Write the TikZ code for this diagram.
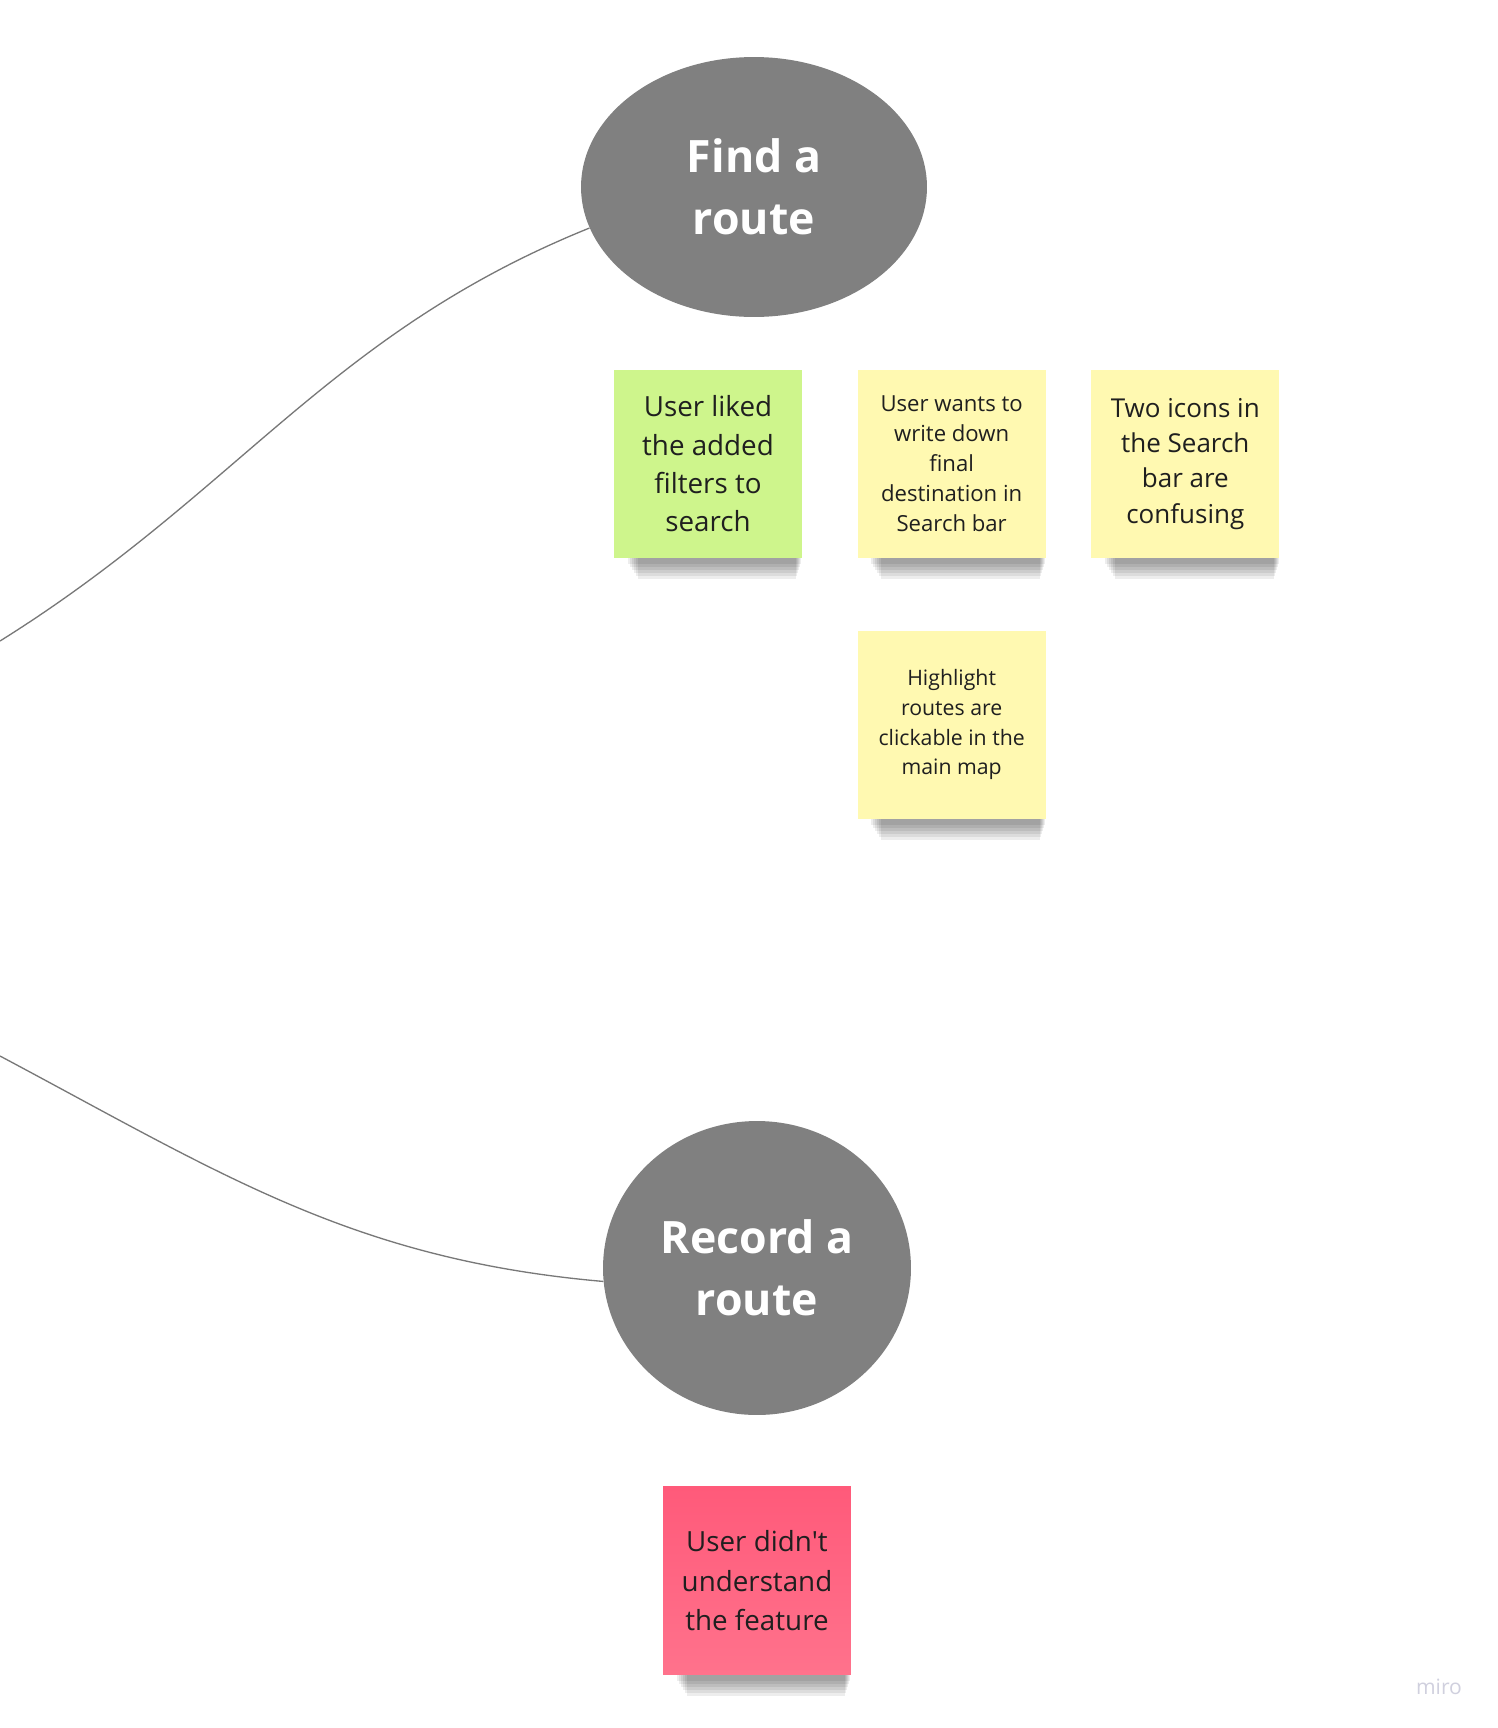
\documentclass[tikz,border=0pt]{standalone}
\usepackage{fontspec}
\setmainfont{Open Sans}
\usetikzlibrary{positioning,shapes.geometric,calc,backgrounds}

\definecolor{topicgray}{RGB}{128,128,128}
\definecolor{linkgray}{RGB}{120,120,120}
\definecolor{notegreen}{RGB}{206,245,140}
\definecolor{noteyellow}{RGB}{255,249,177}
\definecolor{noteredtop}{RGB}{255,90,122}
\definecolor{noteredbot}{RGB}{255,114,140}
\definecolor{marklavender}{RGB}{208,208,222}

\begin{document}
\begin{tikzpicture}[x=0.02cm, y=-0.02cm,
    topic/.style={ellipse, fill=topicgray, text=white, inner sep=0pt, align=center,
      font=\bfseries\fontsize{25.4}{35.5}\selectfont},
    note/.style={rectangle, minimum width=3.76cm, minimum height=3.76cm, inner sep=0pt,
      align=center, text=black!88},
    link/.style={draw=linkgray, line width=0.75pt}]

    \useasboundingbox (0,0) rectangle (1498,1728);

    % Topics
    \node (findroute) [topic, minimum width=6.92cm, minimum height=5.2cm] at (754,187) {Find a\\route};
    \node (recordroute) [topic, minimum width=6.16cm, minimum height=5.88cm] at (757,1268) {Record a\\route};

    % Sticky notes under "Find a route"
    \node (liked) [note, fill=notegreen, font=\fontsize{15.8}{21.8}\selectfont] at (708,464) {User liked\\the added\\filters to\\search};
    \node (wants) [note, fill=noteyellow, font=\fontsize{12.6}{17.1}\selectfont, right=1.1cm of liked] {User wants to\\write down\\final\\destination in\\Search bar};
    \node (icons) [note, fill=noteyellow, font=\fontsize{14.8}{20}\selectfont, right=0.9cm of wants] {Two icons in\\the Search\\bar are\\confusing};
    \node (highlight) [note, fill=noteyellow, font=\fontsize{12.1}{17}\selectfont, below=1.44cm of wants] {Highlight\\routes are\\clickable in the\\main map};

    % Sticky note under "Record a route"
    \node (confused) [note, top color=noteredtop, bottom color=noteredbot, font=\fontsize{15.8}{22.4}\selectfont, below=1.42cm of recordroute] {User didn\textquotesingle t\\understand\\the feature};

    % Soft shadows under the notes
    \begin{scope}[on background layer]
        \fill[white] (0,0) rectangle (1498,1728);
        \foreach \n in {liked,wants,icons,highlight,confused}
            \foreach \k in {1,...,6}
                \fill[black, opacity=0.07] ($(\n.south west)+(12+2*\k,-6)$) rectangle ($(\n.south east)+(-\k,3+3*\k)$);
    \end{scope}

    % Branches coming in from the left
    \coordinate (upperin) at (0,641);
    \coordinate (lowerin) at (0,1056);
    \draw[link] (upperin) to[out=32, in=202] (findroute.194);
    \draw[link] (lowerin) to[out=-28, in=175] (recordroute.185);

    % Watermark
    \node (miro) [text=marklavender, font=\fontsize{12}{12}\selectfont] at (1439,1687) {miro};
\end{tikzpicture}
\end{document}
